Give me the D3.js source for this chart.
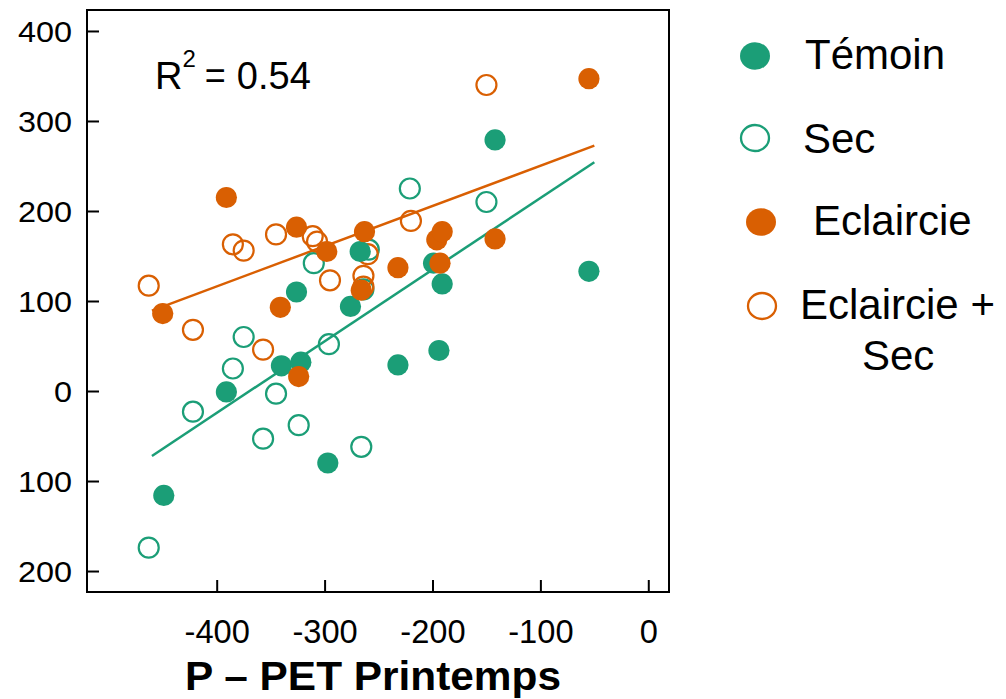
<!DOCTYPE html>
<html>
<head>
<meta charset="utf-8">
<script src="https://cdn.jsdelivr.net/npm/d3@7"></script>
<style>
  body { margin: 0; background: #fff; }
  svg { display: block; font-family: "Liberation Sans", Arial, sans-serif; }
</style>
</head>
<body>
<svg id="chart" width="1006" height="699"></svg>
<script>
"use strict";

// series values: [P - PET, y]
var temoin = [
    [-449, -116], [-391, -1], [-340, 28], [-322, 32], [-326, 110], [-276, 94],
    [-267, 155], [-232, 29], [-194, 45], [-297, -80], [-199, 142], [-191, 119],
    [-142, 279], [-55, 133]
];
var sec = [
    [-463, -174], [-422, -23], [-385, 25], [-375, 60], [-357, -53], [-345, -3],
    [-324, -38], [-296, 52], [-266, -62], [-310, 142], [-259, 157], [-264, 113],
    [-221, 225], [-150, 210]
];
var eclaircie = [
    [-450, 86], [-391, 215], [-341, 93], [-324, 16], [-326, 182], [-298, 155],
    [-263, 177], [-266, 112], [-232, 137], [-196, 168], [-191, 177], [-193, 142],
    [-142, 169], [-55, 347]
];
var eclaircieSec = [
    [-463, 117], [-422, 68], [-385, 163], [-375, 156], [-357, 46], [-345, 174],
    [-311, 172], [-307, 166], [-295, 123], [-264, 128], [-260, 152], [-264, 116],
    [-220, 189], [-150, 340]
];

// fitted lines: x range, slope, intercept
var fitGreen = { x: [-460, -50], slope: 0.796, intercept: 294 };
var fitOrange = { x: [-460, -50], slope: 0.447, intercept: 295 };

var xTicks = [-400, -300, -200, -100, 0];
var yTicks = [400, 300, 200, 100, 0, -100, -200];
var yTickLabels = ["400", "300", "200", "100", "0", "100", "200"];

var green = "#1b9e77";
var orange = "#d95f02";

var svg = d3.select("#chart");
var margin = { left: 87, top: 10, right: 337, bottom: 107 };
var width = 1006 - margin.left - margin.right;
var height = 699 - margin.top - margin.bottom;

var xScale = d3.scaleLinear().domain([-520.2, 19.2]).range([0, width]);
var yScale = d3.scaleLinear().domain([-223.3, 423.3]).range([height, 0]);

var g = svg.append("g").attr("transform", "translate(" + margin.left + "," + margin.top + ")");

// stretch a text to its measured width times k
function stretch(sel, k) {
    sel.each(function () {
        var len = this.getComputedTextLength();
        d3.select(this).attr("textLength", len * k).attr("lengthAdjust", "spacingAndGlyphs");
    });
}

// axes, ticks inside the frame
var yAxis = d3.axisLeft(yScale)
    .tickValues(yTicks)
    .tickSizeInner(-12)
    .tickSizeOuter(0)
    .tickPadding(15)
    .tickFormat(function (d, i) { return yTickLabels[i]; });

var yG = g.append("g").call(yAxis);
yG.select(".domain").remove();
yG.selectAll("line").attr("stroke", "#000").attr("stroke-width", 2);
yG.selectAll("text")
    .attr("fill", "#000")
    .style("font-size", "30px")
    .attr("dy", "0.36em")
    .call(stretch, 1.08);

var xAxis = d3.axisBottom(xScale)
    .tickValues(xTicks)
    .tickSizeInner(-12)
    .tickSizeOuter(0)
    .tickFormat(function (d) { return String(d); });

var xG = g.append("g").attr("transform", "translate(0," + height + ")").call(xAxis);
xG.select(".domain").remove();
xG.selectAll("line").attr("stroke", "#000").attr("stroke-width", 2);
xG.selectAll("text")
    .attr("fill", "#000")
    .style("font-size", "34px")
    .attr("y", 51)
    .attr("dy", 0)
    .call(stretch, 0.96);

g.append("rect")
    .attr("x", 0).attr("y", 0)
    .attr("width", width).attr("height", height)
    .attr("fill", "none")
    .attr("stroke", "#000")
    .attr("stroke-width", 2);

// fitted lines
[[fitOrange, orange], [fitGreen, green]].forEach(function (f) {
    var fit = f[0];
    g.append("line")
        .attr("x1", xScale(fit.x[0]))
        .attr("y1", yScale(fit.slope * fit.x[0] + fit.intercept))
        .attr("x2", xScale(fit.x[1]))
        .attr("y2", yScale(fit.slope * fit.x[1] + fit.intercept))
        .attr("stroke", f[1])
        .attr("stroke-width", 2.5);
});

var series = [
    { data: sec, color: green, filled: false },
    { data: eclaircieSec, color: orange, filled: false },
    { data: temoin, color: green, filled: true },
    { data: eclaircie, color: orange, filled: true }
];

series.forEach(function (s) {
    g.append("g").selectAll("circle")
        .data(s.data)
      .enter().append("circle")
        .attr("cx", function (d) { return xScale(d[0]); })
        .attr("cy", function (d) { return yScale(d[1]); })
        .attr("r", s.filled ? 10.6 : 10)
        .attr("fill", s.filled ? s.color : "none")
        .attr("stroke", s.filled ? "none" : s.color)
        .attr("stroke-width", 2.2);
});

// R2 annotation
var r2 = g.append("text")
    .attr("x", 155 - margin.left)
    .attr("y", 89 - margin.top)
    .style("font-size", "38px")
    .attr("fill", "#000");
r2.append("tspan").text("R");
r2.append("tspan").attr("dy", -22).style("font-size", "24px").text("2");
r2.append("tspan").attr("dy", 22).attr("dx", 9).attr("textLength", 21).attr("lengthAdjust", "spacingAndGlyphs").text("=");
r2.append("tspan").attr("dx", 11).text("0.54");

// axis title
svg.append("text")
    .attr("x", 373)
    .attr("y", 690)
    .attr("text-anchor", "middle")
    .style("font-size", "40px")
    .style("font-weight", "bold")
    .attr("fill", "#000")
    .text("P \u2013 PET Printemps")
    .attr("textLength", 376)
    .attr("lengthAdjust", "spacingAndGlyphs");

// legend
var legend = [
    { label: ["Témoin"], color: green, filled: true, cx: 755, cy: 56, tx: 805, ty: 69 },
    { label: ["Sec"], color: green, filled: false, cx: 755, cy: 138, tx: 803, ty: 153 },
    { label: ["Eclaircie"], color: orange, filled: true, cx: 761, cy: 222, tx: 813, ty: 235 },
    { label: ["Eclaircie +", "Sec"], color: orange, filled: false, cx: 762, cy: 306, tx: 800, ty: 319 }
];

var lg = svg.append("g");
legend.forEach(function (d) {
    lg.append("ellipse")
        .attr("cx", d.cx).attr("cy", d.cy)
        .attr("rx", d.filled ? 15 : 14).attr("ry", d.filled ? 13.7 : 13)
        .attr("fill", d.filled ? d.color : "none")
        .attr("stroke", d.filled ? "none" : d.color)
        .attr("stroke-width", 2.3);
    lg.append("text")
        .attr("x", d.tx).attr("y", d.ty)
        .style("font-size", "42px")
        .attr("fill", "#000")
        .text(d.label[0]);
    if (d.label.length > 1) {
        lg.append("text")
            .attr("x", 862).attr("y", 370)
            .style("font-size", "42px")
            .attr("fill", "#000")
            .text(d.label[1]);
    }
});
</script>
</body>
</html>
